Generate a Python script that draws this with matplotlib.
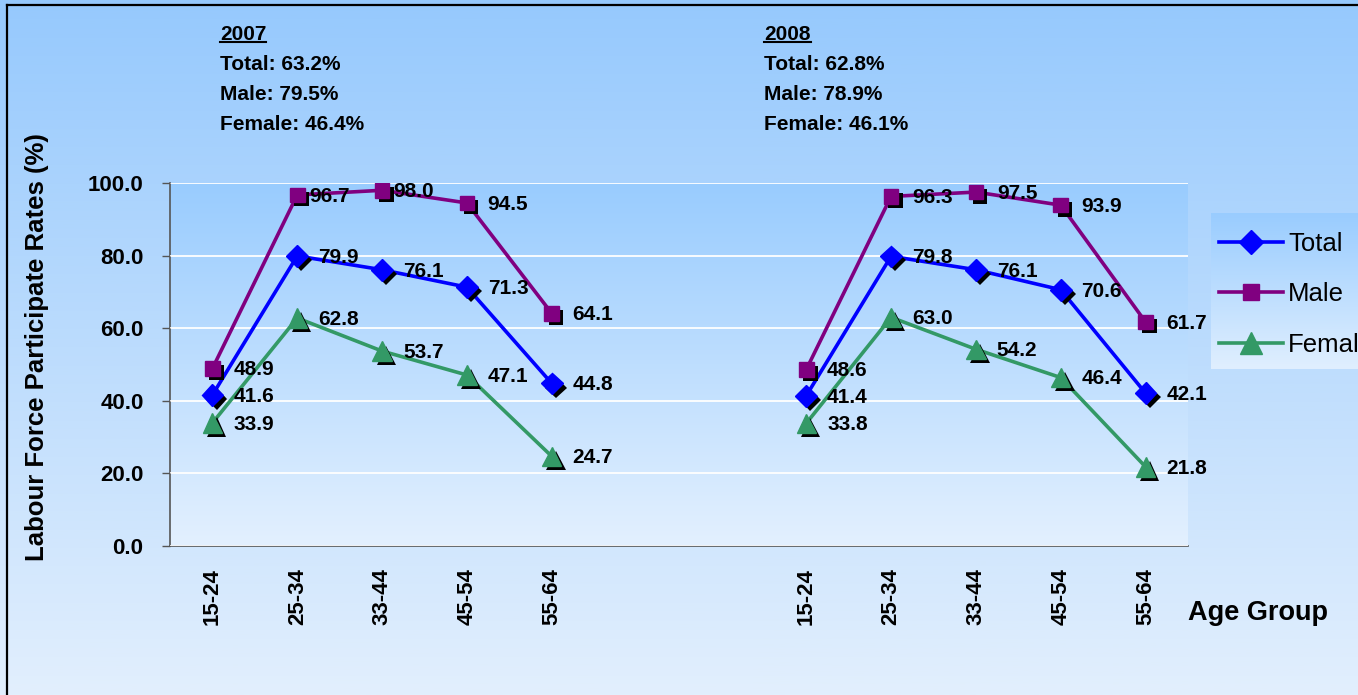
import numpy as np
import matplotlib
matplotlib.use('Agg')
import matplotlib.pyplot as plt
import matplotlib.patheffects as pe
from matplotlib.lines import Line2D
from matplotlib.colors import LinearSegmentedColormap

# ---------------- data ----------------
age_groups = ['15-24', '25-34', '33-44', '45-54', '55-64']
years = ['2007', '2008']
total_2007 = [41.6, 79.9, 76.1, 71.3, 44.8]
male_2007 = [48.9, 96.7, 98.0, 94.5, 64.1]
female_2007 = [33.9, 62.8, 53.7, 47.1, 24.7]
total_2008 = [41.4, 79.8, 76.1, 70.6, 42.1]
male_2008 = [48.6, 96.3, 97.5, 93.9, 61.7]
female_2008 = [33.8, 63.0, 54.2, 46.4, 21.8]
summary_2007 = [('Total', 63.2), ('Male', 79.5), ('Female', 46.4)]
summary_2008 = [('Total', 62.8), ('Male', 78.9), ('Female', 46.1)]
yticks = [0, 20, 40, 60, 80, 100]

FONT = 'Liberation Sans'
plt.rcParams['font.family'] = [FONT, 'DejaVu Sans']

W, H = 1358, 695
fig = plt.figure(figsize=(W / 100, H / 100), dpi=100)


def fx(px):
    return px / W


def fy(py):
    return 1 - py / H


# figure background gradient
bg = fig.add_axes([0, 0, 1, 1], zorder=-10)
cmap_bg = LinearSegmentedColormap.from_list('bg', ['#96C9FD', '#E2EFFD'])
bg.imshow(np.linspace(0, 1, 256).reshape(-1, 1), cmap=cmap_bg, aspect='auto',
          extent=[0, 1, 0, 1], origin='upper')
bg.set_xlim(0, 1); bg.set_ylim(0, 1)
bg.axis('off')
# outer frame (left & top visible)
bg.plot([fx(7), fx(7)], [fy(5), 0], color='black', lw=1.6, transform=bg.transAxes, clip_on=False)
bg.plot([fx(7), 1], [fy(5), fy(5)], color='black', lw=1.6, transform=bg.transAxes, clip_on=False)

# main axes
left, right, top, bottom = 170, 1188, 183, 546
ax = fig.add_axes([fx(left), fy(bottom), fx(right - left), (bottom - top) / H])
ax.patch.set_visible(False)
cmap_pa = LinearSegmentedColormap.from_list('pa', ['#99CCFF', '#E3F0FE'])
ax.imshow(np.linspace(0, 1, 256).reshape(-1, 1), cmap=cmap_pa, aspect='auto',
          extent=[0, 1, 0, 1], transform=ax.transAxes, origin='upper', zorder=0)

n_slots = 12
x07 = np.arange(len(age_groups))
x08 = np.arange(len(age_groups)) + 7

series = [
    ('Total', '#0000FF', 'D', 11, total_2007, total_2008),
    ('Male', '#800080', 's', 10.5, male_2007, male_2008),
    ('Female', '#339966', '^', 14, female_2007, female_2008),
]
# small horizontal nudges (points) for labels crowded by neighbouring markers
label_nudge = {('Male', 0, 1): -6, ('Male', 0, 2): -7}

shadow = [pe.SimplePatchShadow(offset=(3, -3), shadow_rgbFace='black', alpha=1.0), pe.Normal()]

z = 3
for name, col, mk, ms, v07, v08 in series:
    for yi, (xs, vals) in enumerate(((x07, v07), (x08, v08))):
        ax.plot(xs, vals, color=col, lw=2.6, zorder=z, solid_capstyle='round')
        ax.plot(xs, vals, linestyle='none', marker=mk, markersize=ms, markerfacecolor=col,
                markeredgecolor=col, zorder=z + 0.5, path_effects=shadow)
        for i, (x, v) in enumerate(zip(xs, vals)):
            dx = 15 + label_nudge.get((name, yi, i), 0)
            ax.annotate(f'{v:.1f}', (x, v), xytext=(dx, -1), textcoords='offset points',
                        ha='left', va='center', fontsize=15, fontweight='bold',
                        color='black', zorder=10)
    z += 1

ax.set_xlim(-0.5, n_slots - 0.5)
ax.set_ylim(0, 100)
ax.set_yticks(yticks)
ax.set_yticklabels([f'{t:.1f}' for t in yticks], fontsize=16, fontweight='bold')
ax.yaxis.grid(True, color='white', lw=1.3, zorder=1)
ax.set_axisbelow(False)
ax.tick_params(axis='y', length=6, width=1, color='#555555', pad=13)

xt = list(x07) + list(x08)
ax.set_xticks(xt)
ax.set_xticklabels(age_groups + age_groups, rotation=90, fontsize=16, fontweight='bold')
ax.tick_params(axis='x', length=0, pad=16)

for s in ['top', 'right']:
    ax.spines[s].set_visible(False)
for s in ['left', 'bottom']:
    ax.spines[s].set_color('#555555')
    ax.spines[s].set_linewidth(1.2)

ax.set_ylabel('Labour Force Participate Rates (%)', fontsize=18.5, fontweight='bold')
ax.yaxis.set_label_coords((49 - left) / (right - left), (bottom - 347) / (bottom - top))

fig.text(fx(1188), fy(620), 'Age Group', fontsize=19.5, fontweight='bold', ha='left', va='baseline')

# summary annotations
year_texts = []
for yr, summ, xpx in ((years[0], summary_2007, 220), (years[1], summary_2008, 764)):
    t = fig.text(fx(xpx), fy(40), yr, fontsize=15, fontweight='bold', ha='left', va='baseline')
    year_texts.append(t)
    for i, (lab, val) in enumerate(summ):
        fig.text(fx(xpx), fy(70 + 30 * i), f'{lab}: {val:.1f}%', fontsize=15,
                 fontweight='bold', ha='left', va='baseline')

# legend with gradient box
lax = fig.add_axes([fx(1211), fy(369), fx(W - 1211), (369 - 213) / H], zorder=5)
cmap_lg = LinearSegmentedColormap.from_list('lg', ['#99CCFF', '#E0EFFE'])
lax.imshow(np.linspace(0, 1, 256).reshape(-1, 1), cmap=cmap_lg, aspect='auto',
           extent=[0, 1, 0, 1], origin='upper')
lax.set_xlim(0, 1); lax.set_ylim(0, 1)
lax.axis('off')
handles = [Line2D([], [], color=col, lw=2.6, marker=mk, markersize=ms * 1.1, markerfacecolor=col,
                  markeredgecolor=col) for name, col, mk, ms, _, _ in series]
leg = lax.legend(handles, [s[0] for s in series], loc='upper left', bbox_to_anchor=(-0.08, 1.0),
                 frameon=False, fontsize=18.5, handlelength=2.5, handletextpad=0.2,
                 labelspacing=1.02, borderaxespad=0.0, borderpad=0.75)

# underline the year headings
fig.canvas.draw()
r = fig.canvas.get_renderer()
for t in year_texts:
    bb = t.get_window_extent(renderer=r)
    yline = H - 41.5
    fig.add_artist(Line2D([bb.x0 / W, bb.x1 / W], [yline / H, yline / H], color='black', lw=1.5))

fig.savefig('out.png', dpi=100)
